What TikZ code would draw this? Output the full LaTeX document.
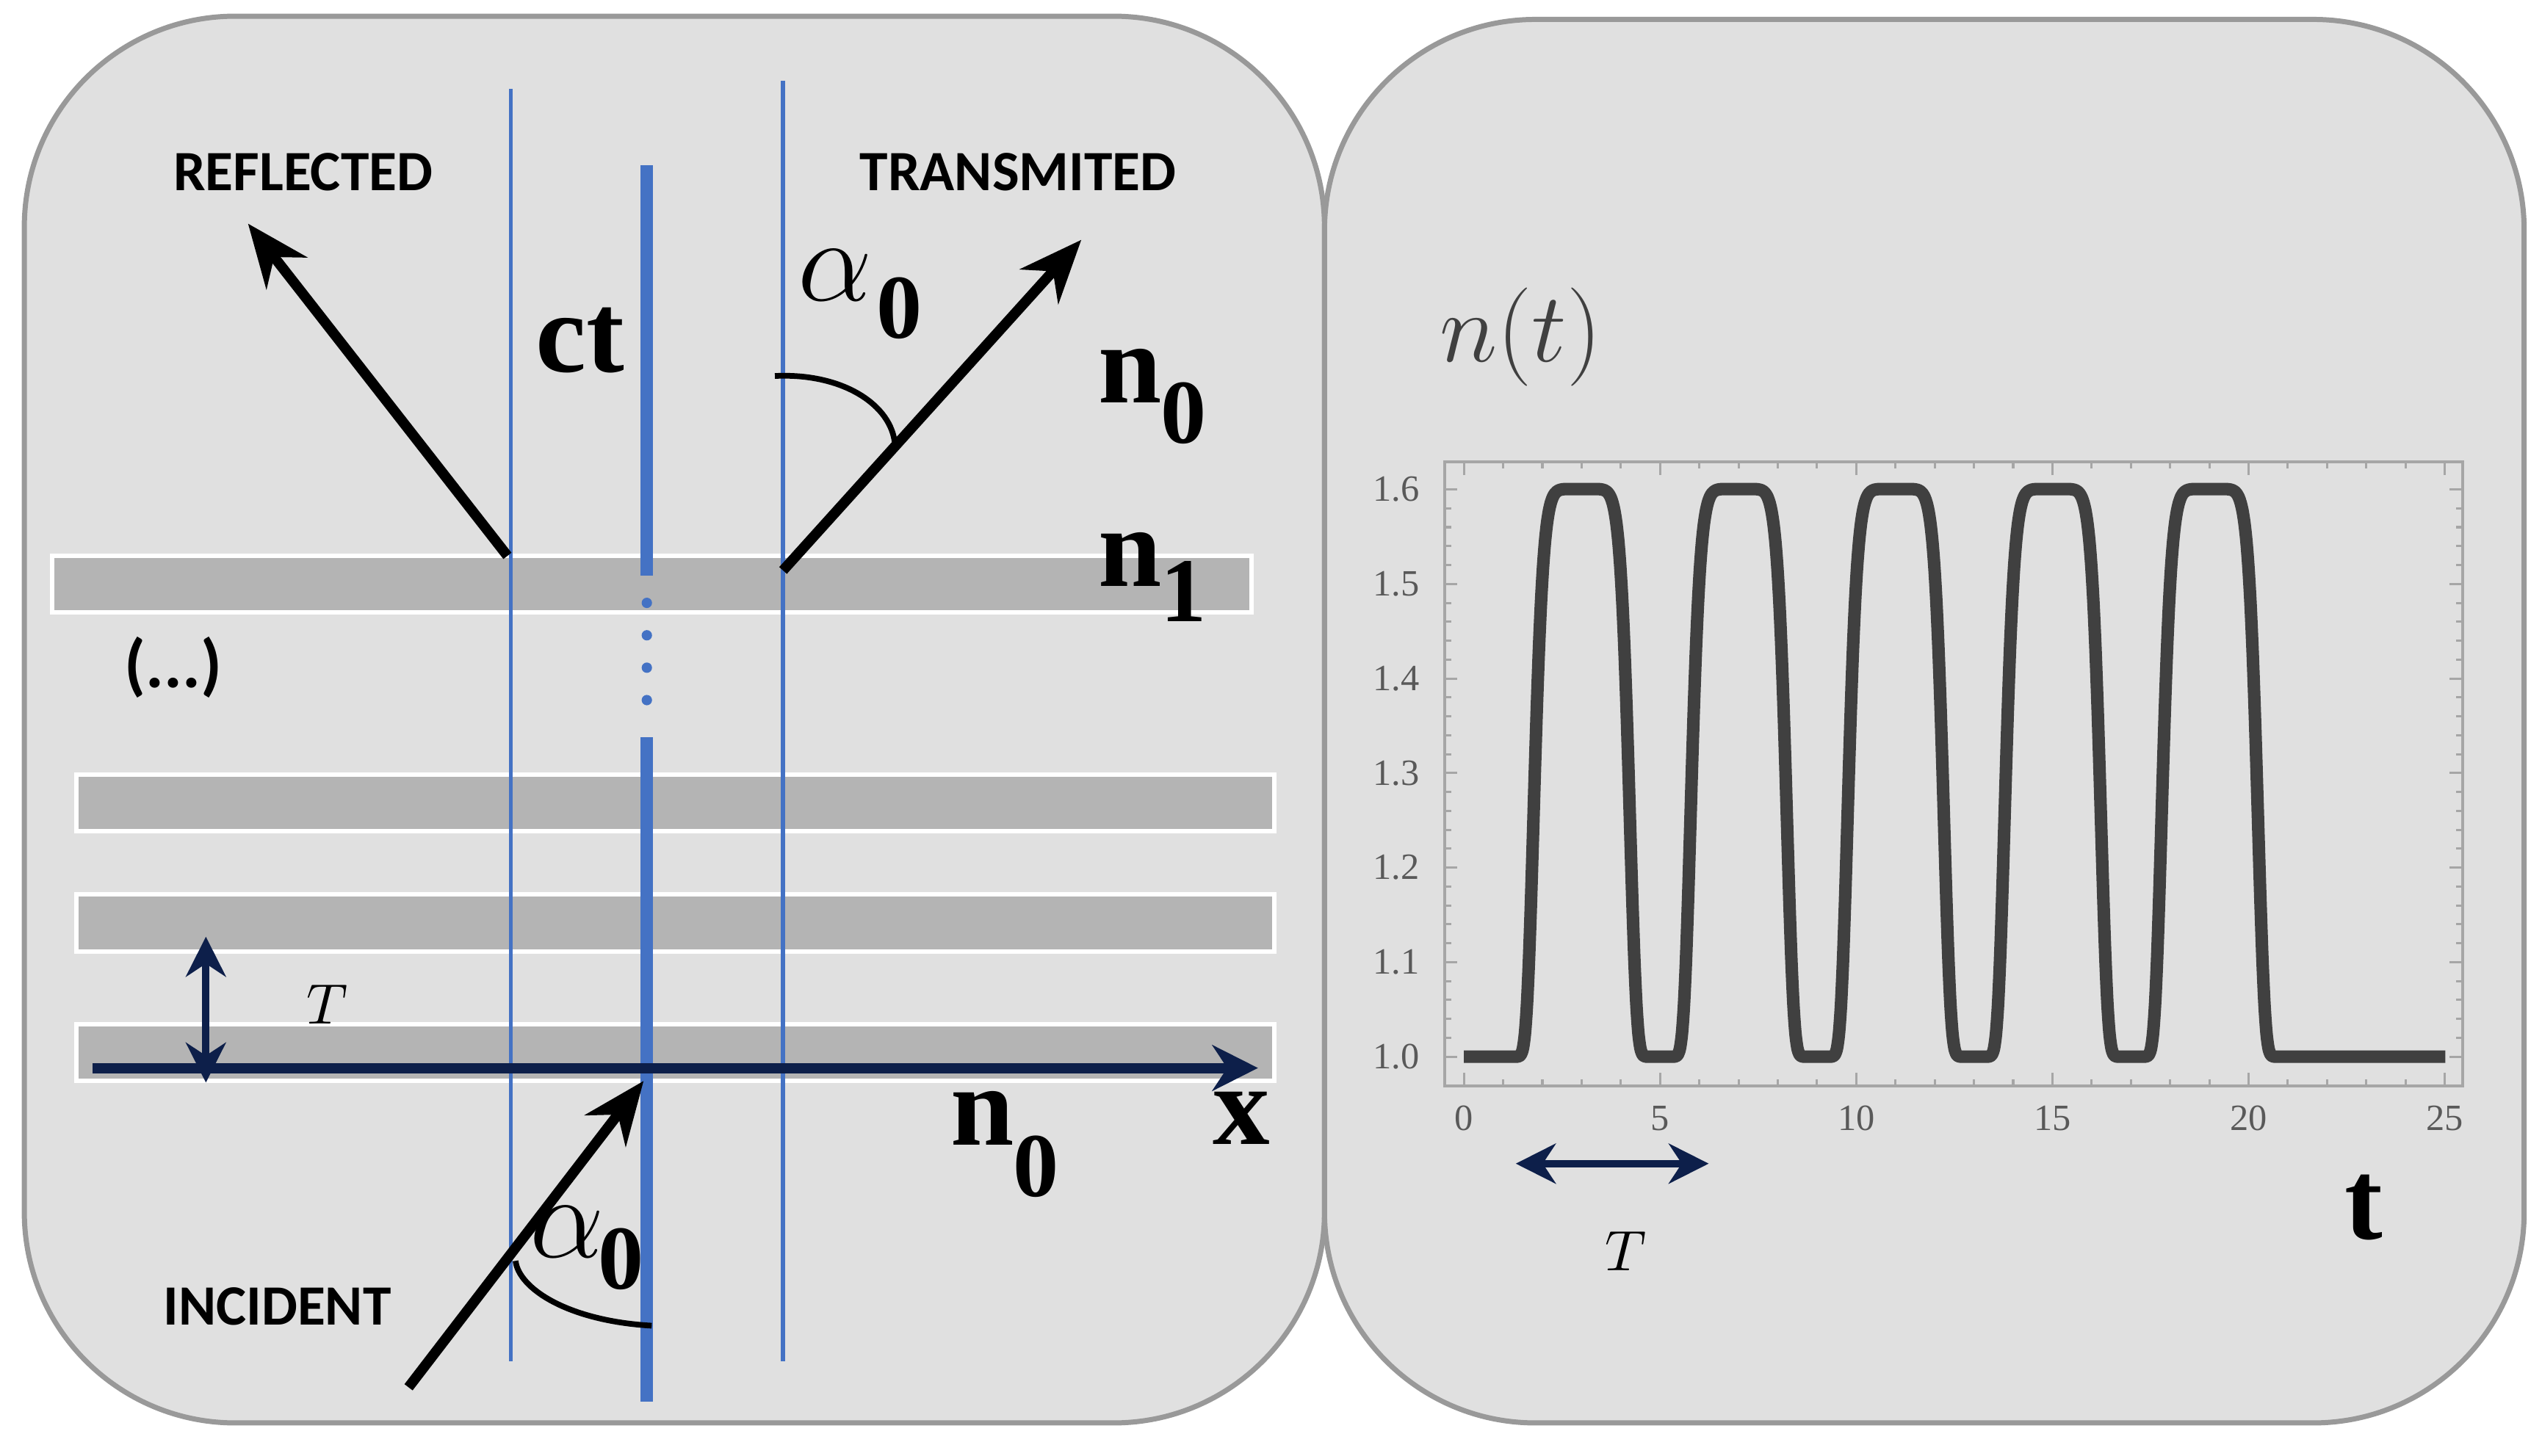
\documentclass[tikz,border=0pt]{standalone}
\usepackage{fontspec}
\setmainfont{Liberation Serif}
\newfontfamily\sansb{Carlito}
\usetikzlibrary{arrows.meta}
\definecolor{panel}{HTML}{E0E0E0}
\definecolor{band}{HTML}{B4B4B4}
\definecolor{lblue}{HTML}{4472C4}
\definecolor{navy}{HTML}{0D1F4A}
\definecolor{curve}{HTML}{404040}
\begin{document}
\begin{tikzpicture}[x=0.01cm,y=-0.01cm,
  panelst/.style={fill=panel,draw=gray!80,line width=0.9pt,rounded corners=1.3cm},
  bandst/.style={fill=band,draw=white,line width=0.8pt},
  thinblue/.style={lblue,line width=0.7pt},
  thickblue/.style={lblue,line width=2.2pt},
  ray/.style={line width=1.8pt,-{Stealth[length=11pt,width=9pt]}},
  lab/.style={font=\sansb\bfseries\fontsize{10}{11}\selectfont},
  big/.style={font=\bfseries\fontsize{20}{22}\selectfont},
  sub/.style={font=\bfseries\fontsize{16}{18}\selectfont},
  tick/.style={font=\fontsize{6.5}{7}\selectfont,text=gray!70!black},
  dbl/.style={navy,line width=1.3pt,{Stealth[length=7pt,width=7pt]}-{Stealth[length=7pt,width=7pt]}}]
\useasboundingbox (0,0) rectangle (1568,898);
\draw[panelst] (15,10) rectangle (817,878);
\draw[panelst] (817,12) rectangle (1557,878);
% bands
\draw[bandst] (32,343) rectangle (772,378);
\draw[bandst] (47,478) rectangle (786,513);
\draw[bandst] (47,552) rectangle (786,587);
\draw[bandst] (47,632) rectangle (786,667);
% blue lines
\coordinate (bl1t) at (315,55); \coordinate (bl1b) at (315,840);
\coordinate (bl2t) at (483,50); \coordinate (bl2b) at (483,840);
\draw[thinblue] (bl1t) -- (bl1b);
\draw[thinblue] (bl2t) -- (bl2b);
\coordinate (ct1) at (399,102); \coordinate (ct2) at (399,355);
\coordinate (ct3) at (399,455); \coordinate (ct4) at (399,865);
\draw[thickblue] (ct1) -- (ct2);
\draw[thickblue] (ct3) -- (ct4);
\foreach \yy in {372,392,412,432} \fill[lblue] (399,\yy) circle (3.2);
% x axis
\coordinate (xa) at (57,659); \coordinate (xb) at (776,659);
\draw[navy,line width=1.8pt,-{Stealth[length=8pt,width=8pt]}] (xa) -- (xb);
\coordinate (Ta) at (127,578); \coordinate (Tb) at (127,668);
\draw[dbl] (Ta) -- (Tb);
\node[font=\fontsize{10}{11}\selectfont] (TL) at (202,620) {$T$};
% rays
\coordinate (i1) at (252,856); \coordinate (i2) at (397,667);
\draw[ray] (i1) -- (i2);
\coordinate (r1) at (313,343); \coordinate (r2) at (153,138);
\draw[ray] (r1) -- (r2);
\coordinate (t1) at (483,352); \coordinate (t2) at (667,148);
\draw[ray] (t1) -- (t2);
\draw[line width=1pt] (402,818) .. controls (350,815) and (320,795) .. (318,778);
\draw[line width=1pt] (478,232) .. controls (520,230) and (550,250) .. (552,274);
% labels
\node[lab] (refl) at (187,106) {REFLECTED};
\node[lab] (trans) at (628,106) {TRANSMITED};
\node[lab] (inc) at (171,806) {INCIDENT};
\node[lab,font=\sansb\bfseries\fontsize{12}{13}\selectfont] (dots) at (107,412) {(...)};
\node[big] (ct) at (358,210) {ct};
\node[big] (xl) at (766,690) {x};
\node[big] (n0a) at (697,232) {n};
\node[sub] (n0as) at (730,255) {0};
\node[big] (n1) at (697,345) {n};
\node[sub] (n1s) at (730,365) {1};
\node[big] (n0b) at (606,690) {n};
\node[sub] (n0bs) at (639,720) {0};
\node[font=\fontsize{20}{22}\selectfont] (al1) at (515,170) {$\alpha$};
\node[sub] (al1s) at (555,190) {0};
\node[font=\fontsize{20}{22}\selectfont] (al2) at (350,760) {$\alpha$};
\node[sub] (al2s) at (383,777) {0};
% right plot
\draw[gray!70,line width=0.5pt] (891,285) rectangle (1519,670);
\foreach \k in {0,...,25} {
  \pgfmathsetmacro\xx{903+24.2*\k}
  \draw[gray!70] (\xx,670) -- (\xx,666);
  \draw[gray!70] (\xx,285) -- (\xx,289);}
\foreach \k in {0,5,...,25} {
  \pgfmathsetmacro\xx{903+24.2*\k}
  \draw[gray!70] (\xx,670) -- (\xx,662);
  \draw[gray!70] (\xx,285) -- (\xx,293);
  \node[tick] at (\xx,690) {\k};}
\foreach \k in {0,...,30} {
  \pgfmathsetmacro\yy{652-11.667*\k}
  \ifdim \yy pt>286pt
  \draw[gray!70] (891,\yy) -- (895,\yy);
  \draw[gray!70] (1519,\yy) -- (1515,\yy);\fi}
\foreach \v/\k in {1.0/0,1.1/1,1.2/2,1.3/3,1.4/4,1.5/5,1.6/6} {
  \pgfmathsetmacro\yy{652-58.33*\k}
  \draw[gray!70] (891,\yy) -- (899,\yy);
  \draw[gray!70] (1519,\yy) -- (1511,\yy);
  \node[tick,anchor=east] at (888,\yy) {\v};}
\begin{scope}[shift={(903,652)},x=0.242cm,y=5.833cm]
\draw[curve,line width=2.2pt,line join=round] (0,0) -- (1,0)
 \foreach \c in {3,7,11,15,19} { -- plot[domain=\c-2:\c+2,samples=80,smooth] (\x,{0.6*exp(-((\x-\c)/1.25)^8)}) }
 -- (25,0);
\end{scope}
\node[font=\fontsize{17}{19}\selectfont,text=curve] (nt) at (938,208) {$n(t)$};
\node[big] (tl) at (1458,745) {t};
\coordinate (da) at (935,718); \coordinate (db) at (1054,718);
\draw[dbl] (da) -- (db);
\node[font=\fontsize{10}{11}\selectfont] (T2) at (1003,772) {$T$};
\end{tikzpicture}
\end{document}
